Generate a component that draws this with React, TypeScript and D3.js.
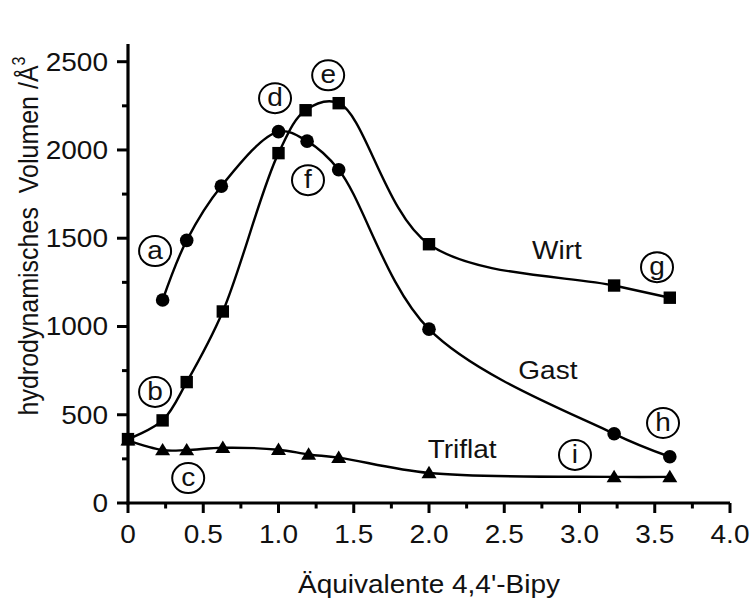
import React from "react";
import * as d3 from "d3";

const wirtX = [0, 0.23, 0.39, 0.63, 1.0, 1.18, 1.4, 2.0, 3.23, 3.6];
const wirtY = [362, 468, 685, 1085, 1982, 2225, 2265, 1466, 1232, 1163];

const gastX = [0.23, 0.39, 0.62, 1.0, 1.19, 1.4, 2.0, 3.23, 3.6];
const gastY = [1150, 1488, 1795, 2104, 2050, 1888, 985, 392, 262];

const triflatX = [0, 0.23, 0.39, 0.63, 1.0, 1.2, 1.4, 2.0, 3.23, 3.6];
const triflatY = [355, 300, 300, 313, 302, 275, 257, 170, 148, 148];

const xTicks = [0, 0.5, 1.0, 1.5, 2.0, 2.5, 3.0, 3.5, 4.0];
const xTickLabels = ["0", "0.5", "1.0", "1.5", "2.0", "2.5", "3.0", "3.5", "4.0"];
const xMinor = [0.25, 0.75, 1.25, 1.75, 2.25, 2.75, 3.25, 3.75];
const yTicks = [0, 500, 1000, 1500, 2000, 2500];
const yMinor = [250, 750, 1250, 1750, 2250];

const circleLabels = ["a", "b", "c", "d", "e", "f", "g", "h", "i"];
const circleLabelX = [0.18, 0.18, 0.4, 0.977, 1.33, 1.196, 3.515, 3.555, 2.97];
const circleLabelY = [1427, 629, 141, 2293, 2423, 1829, 1336, 453, 272];

const seriesNames = ["Wirt", "Gast", "Triflat"];
const seriesNameX = [2.85, 2.79, 2.22];
const seriesNameY = [1385, 705, 255];

const FONT = "'Liberation Sans', Arial, Helvetica, sans-serif";
const SX = 1.12;

export default function App() {
  const W = 752, H = 604;
  const x = d3.scaleLinear().domain([0, 4]).range([128, 730]);
  const y = d3.scaleLinear().domain([0, 2500]).range([503, 61.7]);
  const yTop = 2600;

  const line = d3
    .line<[number, number]>()
    .x((d) => x(d[0]))
    .y((d) => y(d[1]))
    .curve(d3.curveCatmullRom.alpha(0.5));

  const zip = (a: number[], b: number[]) => a.map((v, i) => [v, b[i]] as [number, number]);
  const wirt = zip(wirtX, wirtY);
  const gast = zip(gastX, gastY);
  const tri = zip(triflatX, triflatY);

  const txt = (
    key: string | number,
    px: number,
    py: number,
    content: React.ReactNode,
    anchor: string = "middle",
    size = 25
  ) => (
    <text
      key={key}
      transform={`translate(${px},${py}) scale(${SX},1)`}
      textAnchor={anchor}
      fontSize={size}
      fontFamily={FONT}
      fill="#111"
    >
      {content}
    </text>
  );

  const triPath = (cx: number, cy: number) => {
    const s = 7.5;
    return `M${cx},${cy - s * 0.95} L${cx + s},${cy + s * 0.7} L${cx - s},${cy + s * 0.7} Z`;
  };

  return (
    <svg
      width={W}
      height={H}
      style={{ position: "absolute", left: 0, top: 0, background: "#fff" }}
    >
      <rect width={W} height={H} fill="#fff" />
      {/* lines */}
      <path d={line(tri) || ""} fill="none" stroke="#000" strokeWidth={2.4} />
      <path d={line(gast) || ""} fill="none" stroke="#000" strokeWidth={2.4} />
      <path d={line(wirt) || ""} fill="none" stroke="#000" strokeWidth={2.4} />

      {/* markers */}
      {tri.map((d, i) => (
        <path key={"t" + i} d={triPath(x(d[0]), y(d[1]))} fill="#000" />
      ))}
      {gast.map((d, i) => (
        <circle key={"g" + i} cx={x(d[0])} cy={y(d[1])} r={6.8} fill="#000" />
      ))}
      {wirt.map((d, i) => (
        <rect key={"w" + i} x={x(d[0]) - 6.2} y={y(d[1]) - 6.2} width={12.4} height={12.4} fill="#000" />
      ))}

      {/* axes */}
      <line x1={x(0)} x2={x(0)} y1={y(yTop)} y2={y(0) + 1.5} stroke="#000" strokeWidth={3.2} />
      <line x1={x(0) - 1.5} x2={x(4)} y1={y(0)} y2={y(0)} stroke="#000" strokeWidth={3.2} />
      {yTicks.map((t) => (
        <line key={"yt" + t} x1={x(0) - 11} x2={x(0)} y1={y(t)} y2={y(t)} stroke="#000" strokeWidth={3} />
      ))}
      {yMinor.map((t) => (
        <line key={"ym" + t} x1={x(0) - 6} x2={x(0)} y1={y(t)} y2={y(t)} stroke="#000" strokeWidth={3} />
      ))}
      {xTicks.map((t) => (
        <line key={"xt" + t} x1={x(t)} x2={x(t)} y1={y(0)} y2={y(0) + 10} stroke="#000" strokeWidth={3} />
      ))}
      {xMinor.map((t) => (
        <line key={"xm" + t} x1={x(t)} x2={x(t)} y1={y(0)} y2={y(0) + 5.5} stroke="#000" strokeWidth={3} />
      ))}

      {/* tick labels */}
      {yTicks.map((t) => txt("yl" + t, 108, y(t) + 9, String(t), "end"))}
      {xTicks.map((t, i) => txt("xl" + t, x(t), 543, xTickLabels[i], "middle"))}

      {/* axis titles */}
      {txt("xtitle", 429, 593, "Äquivalente 4,4'-Bipy", "middle")}
      <text
        transform={`translate(38,236) scale(${SX},1) rotate(-90)`}
        textAnchor="middle"
        fontSize={25}
        fontFamily={FONT}
        fill="#111"
        style={{ whiteSpace: "pre" }}
      >
        {"hydrodynamisches  Volumen /Å"}
        <tspan fontSize={16} dy={-12}>3</tspan>
      </text>

      {/* series names */}
      {seriesNames.map((n, i) => txt("sn" + i, x(seriesNameX[i]), y(seriesNameY[i]), n, "middle"))}

      {/* circled labels */}
      {circleLabels.map((l, i) => {
        const cx = x(circleLabelX[i]);
        const cy = y(circleLabelY[i]);
        return (
          <g key={"cl" + l}>
            <ellipse cx={cx} cy={cy} rx={16} ry={15} fill="#fff" stroke="#000" strokeWidth={2} />
            {txt("clt" + l, cx, cy + 8, l, "middle", 25)}
          </g>
        );
      })}
    </svg>
  );
}
